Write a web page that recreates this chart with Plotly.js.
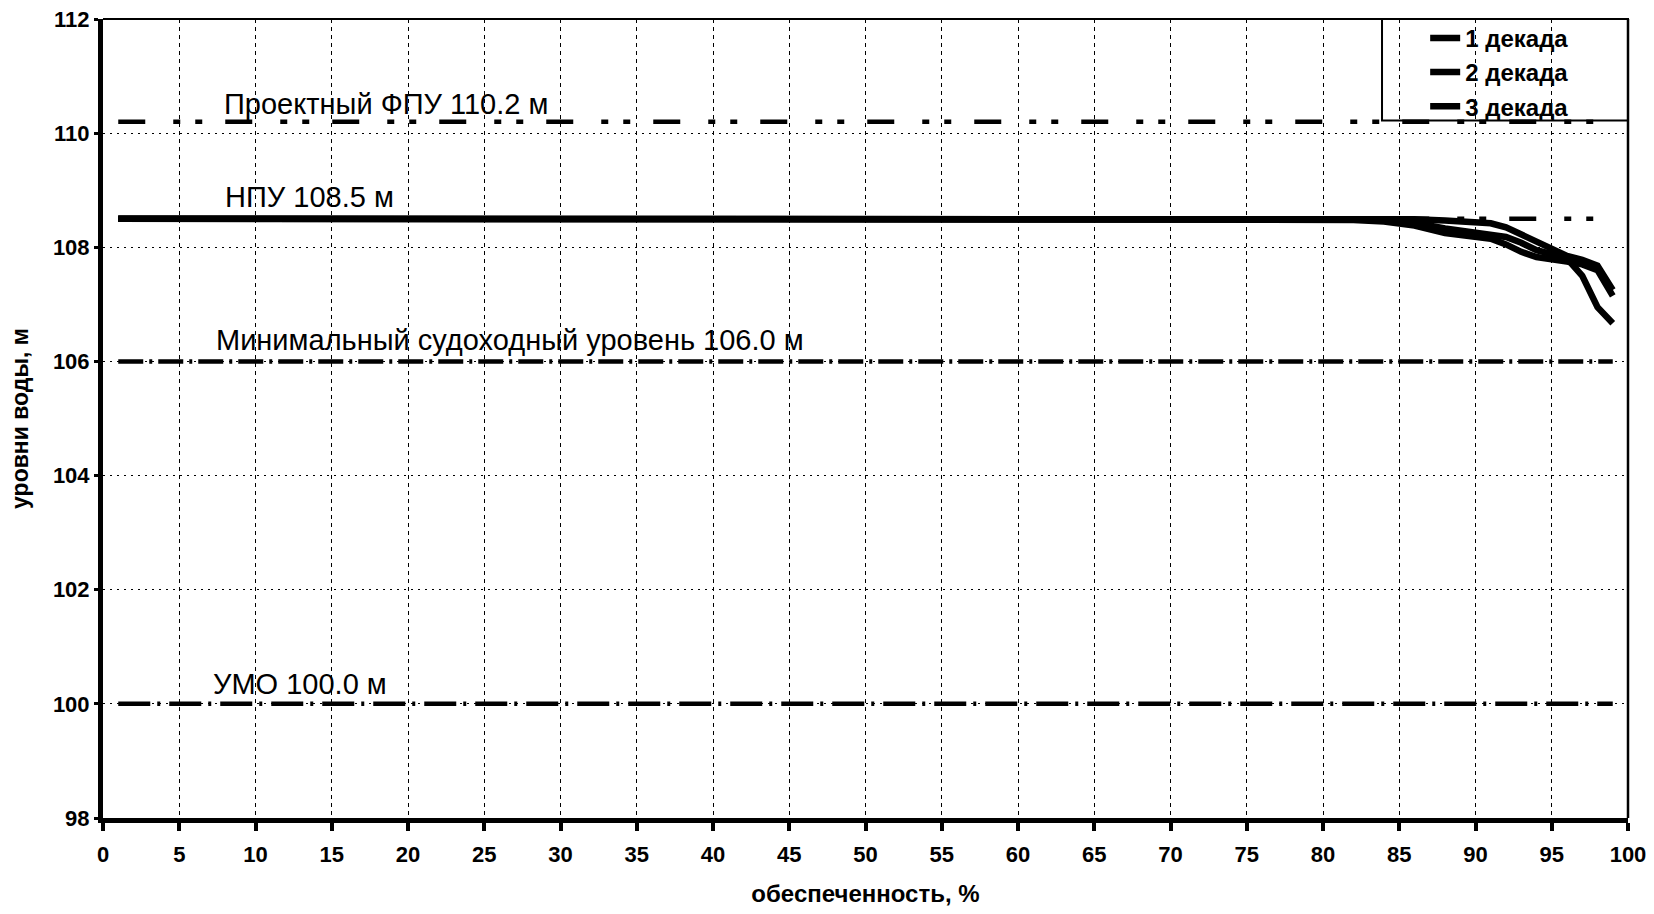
<!DOCTYPE html>
<html>
<head>
<meta charset="utf-8">
<script src="https://cdn.plot.ly/plotly-3.0.1.min.js"></script>
<style>
  html, body { margin: 0; padding: 0; background: #ffffff; }
  #chart { width: 1654px; height: 914px; }
</style>
</head>
<body>
<div id="chart"></div>
<script>
// ---- data ----
const xProb = [1, 5, 10, 15, 20, 25, 30, 35, 40, 45, 50, 55, 60, 65, 70, 75, 80, 82, 84, 86, 88, 90, 91, 92, 93, 94, 95, 96, 97, 98, 99];
const dekada1 = [108.5, 108.5, 108.5, 108.5, 108.5, 108.5, 108.5, 108.5, 108.5, 108.5, 108.5, 108.5, 108.5, 108.5, 108.5, 108.5, 108.5, 108.5, 108.5, 108.49, 108.47, 108.44, 108.42, 108.35, 108.22, 108.08, 107.95, 107.85, 107.78, 107.68, 107.25];
const dekada2 = [108.5, 108.5, 108.5, 108.5, 108.5, 108.5, 108.5, 108.5, 108.5, 108.5, 108.5, 108.5, 108.5, 108.5, 108.5, 108.5, 108.5, 108.49, 108.47, 108.43, 108.33, 108.25, 108.23, 108.18, 108.08, 107.95, 107.88, 107.80, 107.50, 106.95, 106.67];
const dekada3 = [108.5, 108.5, 108.5, 108.5, 108.5, 108.5, 108.5, 108.5, 108.5, 108.5, 108.5, 108.5, 108.5, 108.5, 108.5, 108.5, 108.5, 108.48, 108.45, 108.38, 108.25, 108.20, 108.15, 108.05, 107.92, 107.83, 107.80, 107.75, 107.70, 107.60, 107.15];
const seriesNames = ["1 декада", "2 декада", "3 декада"];

const levelValues = [110.2, 108.5, 106.0, 100.0];
const levelLabels = ["Проектный ФПУ 110.2 м", "НПУ 108.5 м", "Минимальный судоходный уровень 106.0 м", "УМО 100.0 м"];
const levelRange = [1, 99];

const xTitle = "обеспеченность, %";
const yTitle = "уровни воды, м";

// ---- styles ----
const FONT = "Liberation Sans, Arial, sans-serif";
const levelDash = ["27px,28px,7px,15px,7px,23px", "27px,28px,7px,15px,7px,23px", "25px,6px,3px,6px", "32px,7px,3px,9px"];
const labelOffsets = [0.31, 0.38, 0.37, 0.35];
const labelX = [7.8, 7.9, 7.3, 7.1];

const traces = [];
levelValues.forEach((v, i) => {
  traces.push({
    type: "scatter", mode: "lines",
    x: levelRange, y: [v, v],
    line: { color: "#000", width: 4.5, dash: levelDash[i] },
    showlegend: false, hoverinfo: "skip"
  });
});
[dekada1, dekada2, dekada3].forEach((s, i) => {
  traces.push({
    type: "scatter", mode: "lines",
    name: seriesNames[i],
    x: xProb, y: s,
    line: { color: "#000", width: 6.5 },
    showlegend: true
  });
});

const annotations = levelValues.map((v, i) => ({
  x: labelX[i], y: v + labelOffsets[i], xref: "x", yref: "y",
  text: levelLabels[i], showarrow: false, xanchor: "left", yanchor: "middle",
  font: { family: FONT, size: 29, color: "#000" }
}));

const layout = {
  width: 1654, height: 914,
  margin: { l: 103, r: 26, t: 19, b: 96 },
  paper_bgcolor: "#fff", plot_bgcolor: "#fff",
  font: { family: FONT, color: "#000" },
  showlegend: true,
  legend: {
    x: 0.867, xanchor: "left", y: 1.004, yanchor: "top",
    bgcolor: "rgba(0,0,0,0)", borderwidth: 0,
    font: { family: FONT, size: 24, weight: 700, color: "#000" },
    tracegroupgap: 0
  },
  xaxis: {
    range: [0, 100], tick0: 0, dtick: 5, autorange: false,
    showgrid: true, gridcolor: "#000", gridwidth: 1, griddash: "4px,4px",
    showline: true, linecolor: "#000", linewidth: 5,
    ticks: "outside", ticklen: 8, tickwidth: 4, tickcolor: "#000",
    ticklabelstandoff: 5,
    tickfont: { family: FONT, size: 22, weight: 700, color: "#000" },
    zeroline: false,
    title: { text: xTitle, font: { family: FONT, size: 24, weight: 700, color: "#000" }, standoff: 20 }
  },
  yaxis: {
    range: [98, 112], tick0: 98, dtick: 2, autorange: false,
    showgrid: true, gridcolor: "#000", gridwidth: 1, griddash: "2px,5px",
    showline: true, linecolor: "#000", linewidth: 5,
    ticks: "outside", ticklen: 4, tickwidth: 3, tickcolor: "#000",
    tickfont: { family: FONT, size: 22, weight: 700, color: "#000" },
    zeroline: false,
    title: { text: yTitle, font: { family: FONT, size: 23, weight: 700, color: "#000" }, standoff: 19 }
  },
  annotations: annotations,
  shapes: [
    { type: "line", xref: "paper", yref: "paper", x0: 0, x1: 1, y0: 1, y1: 1, line: { color: "#000", width: 2 } },
    { type: "line", xref: "paper", yref: "paper", x0: 1, x1: 1, y0: 0, y1: 1, line: { color: "#000", width: 2.5 } },
    { type: "rect", xref: "paper", yref: "paper", x0: 0.8387, x1: 1, y0: 0.873, y1: 1, line: { color: "#000", width: 2 }, fillcolor: "rgba(0,0,0,0)" }
  ]
};

Plotly.newPlot("chart", traces, layout, { displayModeBar: false, staticPlot: true });
</script>
</body>
</html>
